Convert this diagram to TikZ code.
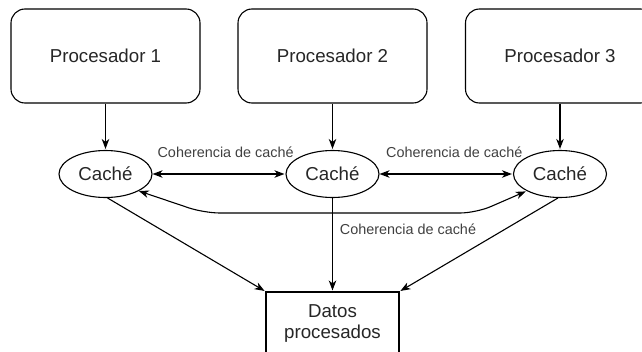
\documentclass[tikz,border=0pt]{standalone}
\usepackage{fontspec}
\setmainfont{Liberation Sans}
\usepackage{tikz}
\usetikzlibrary{arrows.meta, positioning, shapes.geometric}

\begin{document}
\begin{tikzpicture}[x=1pt,y=-1pt,shorten >=1pt,on grid,line width=1.1pt,
        >={Stealth[length=10pt,width=7.5pt,inset=3pt]},
        proc/.style={draw,rounded corners=14pt,minimum width=189pt,minimum height=94pt,
            font=\fontsize{18.7}{21.5}\selectfont,text=black!85},
        cache/.style={draw,ellipse,minimum width=93pt,minimum height=47pt,inner sep=0pt,
            font=\fontsize{18.7}{21.5}\selectfont,text=black!85},
        datos/.style={draw,minimum width=133pt,minimum height=66pt,align=center,
            font=\fontsize{18.7}{21.5}\selectfont,text=black!85},
        lbl/.style={inner sep=0pt,anchor=base,font=\fontsize{14.4}{16}\selectfont,text=black!75}]

      \clip (0,0) rectangle (642,351);

      \node[proc]  (p1) at (105.5,56)         {Procesador 1};
      \node[proc]  (p2) [right=227pt of p1]   {Procesador 2};
      \node[proc]  (p3) [right=227.5pt of p2] {Procesador 3};

      \node[cache] (c1) [below=118pt of p1] {Caché};
      \node[cache] (c2) [below=118pt of p2] {Caché};
      \node[cache] (c3) [below=118pt of p3] {Caché};

      % box runs past the lower edge, as in the reference
      \node[datos] (d)  [below=151pt of c2] {Datos\\procesados\\[-15pt]};

      \coordinate (bl) at (204,213);
      \coordinate (br) at (476,213);

      \draw[->] (p1) -- (c1);
      \draw[->] (p2) -- (c2);
      \draw[->] (p3) -- (c3);

      \draw[<->] (c1) -- node[lbl,pos=.55,yshift=17pt] {Coherencia de caché} (c2);
      \draw[<->] (c2) -- node[lbl,pos=.56,yshift=17pt] {Coherencia de caché} (c3);
      \draw[<->,rounded corners=16pt] (c1.-27) -- (bl)
            -- node[lbl,pos=.75,yshift=-21pt] {Coherencia de caché} (br) -- (c3.207);

      \draw[->] (c1.-85) -- (d.north west);
      \draw[->] (c2) -- (d);
      \draw[->] (c3.-95) -- (d.north east);
    \end{tikzpicture}
\end{document}
